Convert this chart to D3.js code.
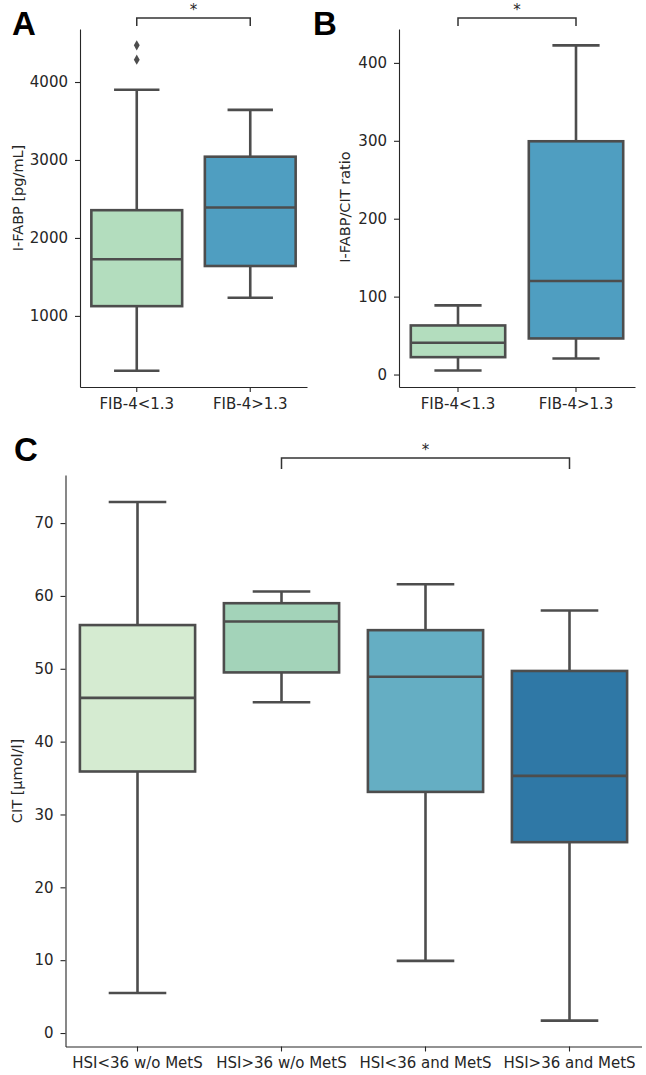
<!DOCTYPE html>
<html>
<head>
<meta charset="utf-8">
<script src="https://cdn.jsdelivr.net/npm/d3@7"></script>
<style>
  body { margin: 0; background: #fff; }
  svg { display: block; }
  .tick text { font-family: "DejaVu Sans", sans-serif; font-size: 15px; fill: #262626; }
  .axis path, .axis line { stroke: #262626; stroke-width: 1.1; }
  .label { font-family: "DejaVu Sans", sans-serif; font-size: 14.5px; fill: #262626; }
  .panel-letter { font-family: "Liberation Sans", Arial, sans-serif; font-weight: bold; font-size: 33px; fill: #000; }
</style>
</head>
<body>
<div id="graph"></div>
<script>
// categories
const fibGroups = ["FIB-4<1.3", "FIB-4>1.3"]
const hsiGroups = ["HSI<36 w/o MetS", "HSI>36 w/o MetS", "HSI<36 and MetS", "HSI>36 and MetS"]

// box stats: [lower whisker, Q1, median, Q3, upper whisker]
const ifabpStats = [[297, 1125, 1726, 2356, 3901], [1232, 1640, 2390, 3042, 3643]]
const ifabpOutliers = [[4287, 4471], []]
const ratioStats = [[5.1, 22.3, 40.7, 63, 88.8], [20.6, 46.3, 120, 299.4, 422.5]]
const ratioOutliers = [[], []]
const citStats = [
  [5.5, 35.9, 46.0, 56.0, 72.9],
  [45.4, 49.5, 56.5, 59.0, 60.6],
  [9.9, 33.1, 48.9, 55.3, 61.6],
  [1.7, 26.2, 35.3, 49.7, 58.0]
]
const citOutliers = [[], [], [], []]

// tick labels
const ifabpTicks = [1000, 2000, 3000, 4000]
const ratioTicks = [0, 100, 200, 300, 400]
const citTicks = [0, 10, 20, 30, 40, 50, 60, 70]

const fibColors = ["#b3ddbe", "#4f9ec1"]
const hsiColors = ["#d5ebd1", "#a3d3b9", "#65aec3", "#2f78a6"]

const width = 646, height = 1075
const svg = d3.select('#graph').append("svg").attr("width", width).attr("height", height)

const boxLine = "#4d4d4d"

function drawPanel(p) {
  const x = d3.scaleBand().domain(p.groups).range([p.left, p.right]).paddingInner(0.2).paddingOuter(0.1)
  const y = d3.scaleLinear().domain(p.yDomain).range([p.bottom, p.top])
  const g = svg.append('g')

  // axes
  g.append('g').attr("class", "axis")
    .attr("transform", `translate(${p.left},0)`)
    .call(d3.axisLeft(y).tickValues(p.ticks).tickSize(5).tickSizeOuter(0).tickPadding(7).tickFormat(d3.format("d")))
  g.append('g').attr("class", "axis")
    .attr("transform", `translate(0,${p.bottom})`)
    .call(d3.axisBottom(x).tickSize(5).tickSizeOuter(0).tickPadding(6))

  // y label
  g.append("text").attr("class", "label")
    .attr("transform", `translate(${p.labelX},${p.labelY}) rotate(-90)`)
    .attr("text-anchor", "middle")
    .attr("dominant-baseline", "central")
    .text(p.yLabel)

  // boxes
  p.groups.forEach((grp, i) => {
    const s = p.stats[i]
    const bx = x(grp), bw = x.bandwidth(), cx = bx + bw / 2
    const box = g.append('g').attr("stroke", boxLine).attr("stroke-width", 2.6)
    // whiskers
    box.append("line").attr("x1", cx).attr("x2", cx).attr("y1", y(s[0])).attr("y2", y(s[1]))
    box.append("line").attr("x1", cx).attr("x2", cx).attr("y1", y(s[3])).attr("y2", y(s[4]))
    box.append("line").attr("x1", cx - bw / 4).attr("x2", cx + bw / 4).attr("y1", y(s[0])).attr("y2", y(s[0]))
    box.append("line").attr("x1", cx - bw / 4).attr("x2", cx + bw / 4).attr("y1", y(s[4])).attr("y2", y(s[4]))
    box.append("rect").attr("x", bx).attr("width", bw)
      .attr("y", y(s[3])).attr("height", y(s[1]) - y(s[3]))
      .attr("fill", p.colors[i])
    box.append("line").attr("x1", bx).attr("x2", bx + bw).attr("y1", y(s[2])).attr("y2", y(s[2]))

    // outliers
    g.selectAll(null).data(p.outliers[i]).enter()
      .append("path")
      .attr("d", d3.symbol(d3.symbolDiamond, 30))
      .attr("transform", d => `translate(${cx},${y(d)})`)
      .attr("fill", boxLine)
  })

  // significance bracket
  const x1 = x(p.groups[p.sig[0]]) + x.bandwidth() / 2
  const x2 = x(p.groups[p.sig[1]]) + x.bandwidth() / 2
  g.append("path")
    .attr("d", `M${x1},${p.sigY + p.sigLeg}V${p.sigY}H${x2}V${p.sigY + p.sigLeg}`)
    .attr("fill", "none").attr("stroke", "#333").attr("stroke-width", 1.5)
  g.append("text").attr("class", "label")
    .attr("x", (x1 + x2) / 2).attr("y", p.sigY - 3)
    .attr("text-anchor", "middle").style("font-size", "15px")
    .text("*")

  svg.append("text").attr("class", "panel-letter")
    .attr("x", p.letterX).attr("y", p.letterY).text(p.letter)
}

drawPanel({
  groups: fibGroups, stats: ifabpStats, outliers: ifabpOutliers, colors: fibColors,
  ticks: ifabpTicks, yDomain: [88, 4680], yLabel: "I-FABP [pg/mL]",
  left: 80, right: 307, top: 29, bottom: 387,
  labelX: 18, labelY: 198, sig: [0, 1], sigY: 18, sigLeg: 8,
  letter: "A", letterX: 12, letterY: 35
})

drawPanel({
  groups: fibGroups, stats: ratioStats, outliers: ratioOutliers, colors: fibColors,
  ticks: ratioTicks, yDomain: [-16, 443.5], yLabel: "I-FABP/CIT ratio",
  left: 399, right: 635, top: 29, bottom: 387,
  labelX: 345, labelY: 207, sig: [0, 1], sigY: 18, sigLeg: 8,
  letter: "B", letterX: 313, letterY: 35
})

drawPanel({
  groups: hsiGroups, stats: citStats, outliers: citOutliers, colors: hsiColors,
  ticks: citTicks, yDomain: [-1.85, 76.6], yLabel: "CIT [µmol/l]",
  left: 65.5, right: 641.5, top: 475, bottom: 1046.5,
  labelX: 17, labelY: 781, sig: [1, 3], sigY: 458, sigLeg: 11,
  letter: "C", letterX: 14, letterY: 461
})
</script>
</body>
</html>
